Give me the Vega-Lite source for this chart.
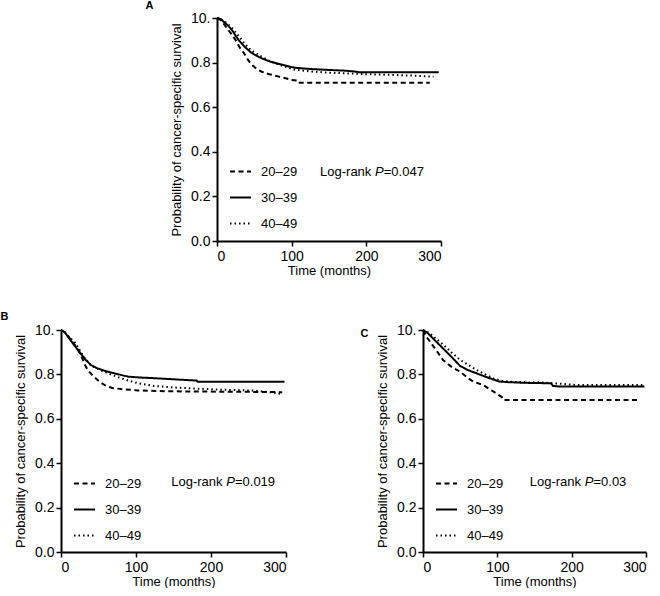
{
  "$schema": "https://vega.github.io/schema/vega-lite/v6.json",
  "background": "white",
  "padding": {"left": 0, "top": 0, "right": 0, "bottom": 0},
  "config": {
    "font": "Liberation Sans",
    "view": {"stroke": null},
    "axis": {
      "grid": false,
      "domainColor": "black",
      "domainWidth": 2,
      "tickColor": "black",
      "tickWidth": 1.5,
      "tickSize": 5,
      "labelColor": "black",
      "labelFontSize": 14,
      "labelFont": "Liberation Sans",
      "titleColor": "black",
      "titleFontSize": 13,
      "titleFont": "Liberation Sans",
      "titleFontWeight": "normal"
    },
    "axisX": {"labelPadding": 3, "titlePadding": 1},
    "axisY": {"labelPadding": 2, "titlePadding": 7},
    "legend": {
      "orient": "none",
      "legendX": 12,
      "legendY": 142,
      "padding": 0,
      "symbolType": "stroke",
      "symbolSize": 440,
      "symbolStrokeColor": "black",
      "symbolStrokeWidth": 2,
      "labelFontSize": 13,
      "labelFont": "Liberation Sans",
      "labelColor": "black",
      "labelOffset": 9,
      "rowPadding": 7,
      "title": null
    },
    "title": {"fontSize": 11, "fontWeight": "bold", "font": "Liberation Sans", "color": "black", "anchor": "start", "frame": "bounds"}
  },
  "datasets": {
    "km": [
      {"panel": "A", "group": "20–29", "t": 0, "s": 1},
      {"panel": "A", "group": "20–29", "t": 5, "s": 0.99},
      {"panel": "A", "group": "20–29", "t": 10, "s": 0.97},
      {"panel": "A", "group": "20–29", "t": 13, "s": 0.955},
      {"panel": "A", "group": "20–29", "t": 20, "s": 0.925},
      {"panel": "A", "group": "20–29", "t": 25, "s": 0.9},
      {"panel": "A", "group": "20–29", "t": 30, "s": 0.87},
      {"panel": "A", "group": "20–29", "t": 36, "s": 0.843},
      {"panel": "A", "group": "20–29", "t": 42, "s": 0.81},
      {"panel": "A", "group": "20–29", "t": 47, "s": 0.789},
      {"panel": "A", "group": "20–29", "t": 53, "s": 0.772},
      {"panel": "A", "group": "20–29", "t": 60, "s": 0.759},
      {"panel": "A", "group": "20–29", "t": 70, "s": 0.748},
      {"panel": "A", "group": "20–29", "t": 83, "s": 0.737},
      {"panel": "A", "group": "20–29", "t": 92, "s": 0.73},
      {"panel": "A", "group": "20–29", "t": 100, "s": 0.722},
      {"panel": "A", "group": "20–29", "t": 108, "s": 0.719},
      {"panel": "A", "group": "20–29", "t": 109, "s": 0.71},
      {"panel": "A", "group": "20–29", "t": 285, "s": 0.71},
      {"panel": "A", "group": "30–39", "t": 0, "s": 1},
      {"panel": "A", "group": "30–39", "t": 5, "s": 0.995},
      {"panel": "A", "group": "30–39", "t": 10, "s": 0.98},
      {"panel": "A", "group": "30–39", "t": 15, "s": 0.965},
      {"panel": "A", "group": "30–39", "t": 20, "s": 0.946},
      {"panel": "A", "group": "30–39", "t": 28, "s": 0.905},
      {"panel": "A", "group": "30–39", "t": 37, "s": 0.871},
      {"panel": "A", "group": "30–39", "t": 45, "s": 0.847},
      {"panel": "A", "group": "30–39", "t": 52, "s": 0.832},
      {"panel": "A", "group": "30–39", "t": 60, "s": 0.819},
      {"panel": "A", "group": "30–39", "t": 70, "s": 0.806},
      {"panel": "A", "group": "30–39", "t": 83, "s": 0.794},
      {"panel": "A", "group": "30–39", "t": 95, "s": 0.784},
      {"panel": "A", "group": "30–39", "t": 104, "s": 0.777},
      {"panel": "A", "group": "30–39", "t": 115, "s": 0.774},
      {"panel": "A", "group": "30–39", "t": 126, "s": 0.771},
      {"panel": "A", "group": "30–39", "t": 150, "s": 0.767},
      {"panel": "A", "group": "30–39", "t": 171, "s": 0.764},
      {"panel": "A", "group": "30–39", "t": 185, "s": 0.76},
      {"panel": "A", "group": "30–39", "t": 190, "s": 0.757},
      {"panel": "A", "group": "30–39", "t": 297, "s": 0.757},
      {"panel": "A", "group": "40–49", "t": 0, "s": 1},
      {"panel": "A", "group": "40–49", "t": 5, "s": 0.995},
      {"panel": "A", "group": "40–49", "t": 10, "s": 0.985},
      {"panel": "A", "group": "40–49", "t": 20, "s": 0.955},
      {"panel": "A", "group": "40–49", "t": 30, "s": 0.915},
      {"panel": "A", "group": "40–49", "t": 37, "s": 0.885},
      {"panel": "A", "group": "40–49", "t": 45, "s": 0.857},
      {"panel": "A", "group": "40–49", "t": 60, "s": 0.826},
      {"panel": "A", "group": "40–49", "t": 70, "s": 0.808},
      {"panel": "A", "group": "40–49", "t": 83, "s": 0.79},
      {"panel": "A", "group": "40–49", "t": 95, "s": 0.778},
      {"panel": "A", "group": "40–49", "t": 104, "s": 0.768},
      {"panel": "A", "group": "40–49", "t": 126, "s": 0.76},
      {"panel": "A", "group": "40–49", "t": 150, "s": 0.755},
      {"panel": "A", "group": "40–49", "t": 171, "s": 0.752},
      {"panel": "A", "group": "40–49", "t": 200, "s": 0.748},
      {"panel": "A", "group": "40–49", "t": 230, "s": 0.745},
      {"panel": "A", "group": "40–49", "t": 260, "s": 0.742},
      {"panel": "A", "group": "40–49", "t": 290, "s": 0.737},

      {"panel": "B", "group": "20–29", "t": 0, "s": 1},
      {"panel": "B", "group": "20–29", "t": 5, "s": 0.99},
      {"panel": "B", "group": "20–29", "t": 10, "s": 0.97},
      {"panel": "B", "group": "20–29", "t": 17, "s": 0.94},
      {"panel": "B", "group": "20–29", "t": 22, "s": 0.915},
      {"panel": "B", "group": "20–29", "t": 26, "s": 0.89},
      {"panel": "B", "group": "20–29", "t": 30, "s": 0.86},
      {"panel": "B", "group": "20–29", "t": 33, "s": 0.835},
      {"panel": "B", "group": "20–29", "t": 38, "s": 0.81},
      {"panel": "B", "group": "20–29", "t": 44, "s": 0.79},
      {"panel": "B", "group": "20–29", "t": 52, "s": 0.765},
      {"panel": "B", "group": "20–29", "t": 61.6, "s": 0.745},
      {"panel": "B", "group": "20–29", "t": 70, "s": 0.738},
      {"panel": "B", "group": "20–29", "t": 80, "s": 0.734},
      {"panel": "B", "group": "20–29", "t": 102, "s": 0.728},
      {"panel": "B", "group": "20–29", "t": 130, "s": 0.725},
      {"panel": "B", "group": "20–29", "t": 168, "s": 0.723},
      {"panel": "B", "group": "20–29", "t": 230, "s": 0.722},
      {"panel": "B", "group": "20–29", "t": 295, "s": 0.72},
      {"panel": "B", "group": "30–39", "t": 0, "s": 1},
      {"panel": "B", "group": "30–39", "t": 5, "s": 0.99},
      {"panel": "B", "group": "30–39", "t": 10.7, "s": 0.963},
      {"panel": "B", "group": "30–39", "t": 18, "s": 0.93},
      {"panel": "B", "group": "30–39", "t": 26, "s": 0.895},
      {"panel": "B", "group": "30–39", "t": 33, "s": 0.865},
      {"panel": "B", "group": "30–39", "t": 40, "s": 0.842},
      {"panel": "B", "group": "30–39", "t": 48, "s": 0.828},
      {"panel": "B", "group": "30–39", "t": 57.6, "s": 0.817},
      {"panel": "B", "group": "30–39", "t": 70, "s": 0.806},
      {"panel": "B", "group": "30–39", "t": 89, "s": 0.79},
      {"panel": "B", "group": "30–39", "t": 105, "s": 0.786},
      {"panel": "B", "group": "30–39", "t": 124, "s": 0.783},
      {"panel": "B", "group": "30–39", "t": 150, "s": 0.778},
      {"panel": "B", "group": "30–39", "t": 181, "s": 0.772},
      {"panel": "B", "group": "30–39", "t": 182, "s": 0.767},
      {"panel": "B", "group": "30–39", "t": 298, "s": 0.767},
      {"panel": "B", "group": "40–49", "t": 0, "s": 1},
      {"panel": "B", "group": "40–49", "t": 5, "s": 0.99},
      {"panel": "B", "group": "40–49", "t": 10, "s": 0.97},
      {"panel": "B", "group": "40–49", "t": 17, "s": 0.95},
      {"panel": "B", "group": "40–49", "t": 24, "s": 0.915},
      {"panel": "B", "group": "40–49", "t": 30, "s": 0.88},
      {"panel": "B", "group": "40–49", "t": 40, "s": 0.84},
      {"panel": "B", "group": "40–49", "t": 48, "s": 0.825},
      {"panel": "B", "group": "40–49", "t": 58, "s": 0.812},
      {"panel": "B", "group": "40–49", "t": 70, "s": 0.795},
      {"panel": "B", "group": "40–49", "t": 80, "s": 0.783},
      {"panel": "B", "group": "40–49", "t": 90, "s": 0.772},
      {"panel": "B", "group": "40–49", "t": 102, "s": 0.761},
      {"panel": "B", "group": "40–49", "t": 124, "s": 0.748},
      {"panel": "B", "group": "40–49", "t": 145, "s": 0.742},
      {"panel": "B", "group": "40–49", "t": 168, "s": 0.738},
      {"panel": "B", "group": "40–49", "t": 214, "s": 0.731},
      {"panel": "B", "group": "40–49", "t": 259, "s": 0.727},
      {"panel": "B", "group": "40–49", "t": 277, "s": 0.72},
      {"panel": "B", "group": "40–49", "t": 295, "s": 0.712},

      {"panel": "C", "group": "20–29", "t": 0, "s": 1},
      {"panel": "C", "group": "20–29", "t": 4.5, "s": 0.97},
      {"panel": "C", "group": "20–29", "t": 10, "s": 0.945},
      {"panel": "C", "group": "20–29", "t": 16, "s": 0.917},
      {"panel": "C", "group": "20–29", "t": 27, "s": 0.865},
      {"panel": "C", "group": "20–29", "t": 38, "s": 0.835},
      {"panel": "C", "group": "20–29", "t": 50, "s": 0.812},
      {"panel": "C", "group": "20–29", "t": 60, "s": 0.785},
      {"panel": "C", "group": "20–29", "t": 68, "s": 0.767},
      {"panel": "C", "group": "20–29", "t": 81, "s": 0.752},
      {"panel": "C", "group": "20–29", "t": 95, "s": 0.722},
      {"panel": "C", "group": "20–29", "t": 106, "s": 0.698},
      {"panel": "C", "group": "20–29", "t": 108, "s": 0.685},
      {"panel": "C", "group": "20–29", "t": 291, "s": 0.685},
      {"panel": "C", "group": "30–39", "t": 0, "s": 1},
      {"panel": "C", "group": "30–39", "t": 5, "s": 0.99},
      {"panel": "C", "group": "30–39", "t": 9, "s": 0.977},
      {"panel": "C", "group": "30–39", "t": 18, "s": 0.947},
      {"panel": "C", "group": "30–39", "t": 27, "s": 0.917},
      {"panel": "C", "group": "30–39", "t": 38, "s": 0.88},
      {"panel": "C", "group": "30–39", "t": 50, "s": 0.838},
      {"panel": "C", "group": "30–39", "t": 60, "s": 0.82},
      {"panel": "C", "group": "30–39", "t": 72, "s": 0.805},
      {"panel": "C", "group": "30–39", "t": 85, "s": 0.788},
      {"panel": "C", "group": "30–39", "t": 95, "s": 0.777},
      {"panel": "C", "group": "30–39", "t": 102, "s": 0.768},
      {"panel": "C", "group": "30–39", "t": 115, "s": 0.765},
      {"panel": "C", "group": "30–39", "t": 138, "s": 0.762},
      {"panel": "C", "group": "30–39", "t": 172, "s": 0.76},
      {"panel": "C", "group": "30–39", "t": 175, "s": 0.748},
      {"panel": "C", "group": "30–39", "t": 185, "s": 0.745},
      {"panel": "C", "group": "30–39", "t": 298, "s": 0.745},
      {"panel": "C", "group": "40–49", "t": 0, "s": 1},
      {"panel": "C", "group": "40–49", "t": 5, "s": 0.993},
      {"panel": "C", "group": "40–49", "t": 9, "s": 0.985},
      {"panel": "C", "group": "40–49", "t": 18, "s": 0.96},
      {"panel": "C", "group": "40–49", "t": 27, "s": 0.935},
      {"panel": "C", "group": "40–49", "t": 38, "s": 0.9},
      {"panel": "C", "group": "40–49", "t": 50, "s": 0.865},
      {"panel": "C", "group": "40–49", "t": 60, "s": 0.845},
      {"panel": "C", "group": "40–49", "t": 72, "s": 0.82},
      {"panel": "C", "group": "40–49", "t": 85, "s": 0.798},
      {"panel": "C", "group": "40–49", "t": 95, "s": 0.782},
      {"panel": "C", "group": "40–49", "t": 105, "s": 0.772},
      {"panel": "C", "group": "40–49", "t": 116, "s": 0.767},
      {"panel": "C", "group": "40–49", "t": 140, "s": 0.764},
      {"panel": "C", "group": "40–49", "t": 161, "s": 0.763},
      {"panel": "C", "group": "40–49", "t": 185, "s": 0.758},
      {"panel": "C", "group": "40–49", "t": 206, "s": 0.752},
      {"panel": "C", "group": "40–49", "t": 296, "s": 0.752}
    ]
  },
  "spacing": 34,
  "resolve": {"scale": {"strokeDash": "independent", "x": "independent", "y": "independent"}, "legend": {"strokeDash": "independent"}},
  "vconcat": [
    {
      "spacing": 10,
      "align": "none",
      "resolve": {"scale": {"strokeDash": "independent", "x": "independent", "y": "independent"}, "legend": {"strokeDash": "independent"}},
      "hconcat": [
        {
          "width": 74,
          "height": 10,
          "data": {"values": [{"blank": ""}]},
          "mark": {"type": "text", "opacity": 0},
          "encoding": {"text": {"field": "blank"}}
        },
        {
          "title": {"text": "A", "dx": -25, "offset": 0},
          "width": 224,
          "height": 223,
          "layer": [
            {
              "data": {"name": "km"},
              "transform": [{"filter": "datum.panel === 'A'"}],
              "mark": {"type": "line", "color": "black", "strokeWidth": 2},
              "encoding": {
                "x": {"field": "t", "type": "quantitative", "title": "Time (months)", "scale": {"domain": [0, 300], "nice": false}, "axis": {"values": [0, 50, 100, 150, 200, 250, 300]}},
                "y": {"field": "s", "type": "quantitative", "title": "Probability of cancer-specific survival", "scale": {"domain": [0, 1], "nice": false}, "axis": {"values": [0, 0.2, 0.4, 0.6, 0.8, 1], "labelExpr": "datum.value === 1 ? '10.' : format(datum.value, '.1f')"}},
                "strokeDash": {"field": "group", "type": "nominal", "scale": {"domain": ["20–29", "30–39", "40–49"], "range": [[5, 3.5], [1, 0], [1.5, 3]]}}
              }
            },
            {
              "data": {"values": [{"a": "Log-rank ", "p": "P", "v": "=0.047"}]},
              "layer": [
                {"mark": {"type": "text", "align": "left", "baseline": "middle", "fontSize": 13, "color": "black"}, "encoding": {"x": {"datum": 138}, "y": {"datum": 0.31}, "text": {"field": "a"}}},
                {"mark": {"type": "text", "align": "left", "baseline": "middle", "fontSize": 13, "fontStyle": "italic", "color": "black", "dx": 55}, "encoding": {"x": {"datum": 138}, "y": {"datum": 0.31}, "text": {"field": "p"}}},
                {"mark": {"type": "text", "align": "left", "baseline": "middle", "fontSize": 13, "color": "black", "dx": 63.7}, "encoding": {"x": {"datum": 138}, "y": {"datum": 0.31}, "text": {"field": "v"}}}
              ]
            }
          ]
        }
      ]
    },
    {
      "spacing": 71,
      "align": "none",
      "resolve": {"scale": {"strokeDash": "independent", "x": "independent", "y": "independent"}, "legend": {"strokeDash": "independent"}},
      "hconcat": [
        {
          "title": {"text": "B", "dx": -14, "dy": 3},
          "width": 225,
          "height": 222,
          "layer": [
            {
              "data": {"name": "km"},
              "transform": [{"filter": "datum.panel === 'B'"}],
              "mark": {"type": "line", "color": "black", "strokeWidth": 2},
              "encoding": {
                "x": {"field": "t", "type": "quantitative", "title": "Time (months)", "scale": {"domain": [0, 300], "nice": false}, "axis": {"values": [0, 50, 100, 150, 200, 250, 300]}},
                "y": {"field": "s", "type": "quantitative", "title": "Probability of cancer-specific survival", "scale": {"domain": [0, 1], "nice": false}, "axis": {"values": [0, 0.2, 0.4, 0.6, 0.8, 1], "labelExpr": "datum.value === 1 ? '10.' : format(datum.value, '.1f')"}},
                "strokeDash": {"field": "group", "type": "nominal", "scale": {"domain": ["20–29", "30–39", "40–49"], "range": [[5, 3.5], [1, 0], [1.5, 3]]}}
              }
            },
            {
              "data": {"values": [{"a": "Log-rank ", "p": "P", "v": "=0.019"}]},
              "layer": [
                {"mark": {"type": "text", "align": "left", "baseline": "middle", "fontSize": 13, "color": "black"}, "encoding": {"x": {"datum": 147}, "y": {"datum": 0.315}, "text": {"field": "a"}}},
                {"mark": {"type": "text", "align": "left", "baseline": "middle", "fontSize": 13, "fontStyle": "italic", "color": "black", "dx": 55}, "encoding": {"x": {"datum": 147}, "y": {"datum": 0.315}, "text": {"field": "p"}}},
                {"mark": {"type": "text", "align": "left", "baseline": "middle", "fontSize": 13, "color": "black", "dx": 63.7}, "encoding": {"x": {"datum": 147}, "y": {"datum": 0.315}, "text": {"field": "v"}}}
              ]
            }
          ]
        },
        {
          "title": {"text": "C", "dx": -16, "dy": 20},
          "width": 223,
          "height": 222,
          "layer": [
            {
              "data": {"name": "km"},
              "transform": [{"filter": "datum.panel === 'C'"}],
              "mark": {"type": "line", "color": "black", "strokeWidth": 2},
              "encoding": {
                "x": {"field": "t", "type": "quantitative", "title": "Time (months)", "scale": {"domain": [0, 300], "nice": false}, "axis": {"values": [0, 50, 100, 150, 200, 250, 300]}},
                "y": {"field": "s", "type": "quantitative", "title": "Probability of cancer-specific survival", "scale": {"domain": [0, 1], "nice": false}, "axis": {"values": [0, 0.2, 0.4, 0.6, 0.8, 1], "labelExpr": "datum.value === 1 ? '10.' : format(datum.value, '.1f')"}},
                "strokeDash": {"field": "group", "type": "nominal", "scale": {"domain": ["20–29", "30–39", "40–49"], "range": [[5, 3.5], [1, 0], [1.5, 3]]}}
              }
            },
            {
              "data": {"values": [{"a": "Log-rank ", "p": "P", "v": "=0.03"}]},
              "layer": [
                {"mark": {"type": "text", "align": "left", "baseline": "middle", "fontSize": 13, "color": "black"}, "encoding": {"x": {"datum": 143.6}, "y": {"datum": 0.315}, "text": {"field": "a"}}},
                {"mark": {"type": "text", "align": "left", "baseline": "middle", "fontSize": 13, "fontStyle": "italic", "color": "black", "dx": 55}, "encoding": {"x": {"datum": 143.6}, "y": {"datum": 0.315}, "text": {"field": "p"}}},
                {"mark": {"type": "text", "align": "left", "baseline": "middle", "fontSize": 13, "color": "black", "dx": 63.7}, "encoding": {"x": {"datum": 143.6}, "y": {"datum": 0.315}, "text": {"field": "v"}}}
              ]
            }
          ]
        }
      ]
    }
  ]
}
